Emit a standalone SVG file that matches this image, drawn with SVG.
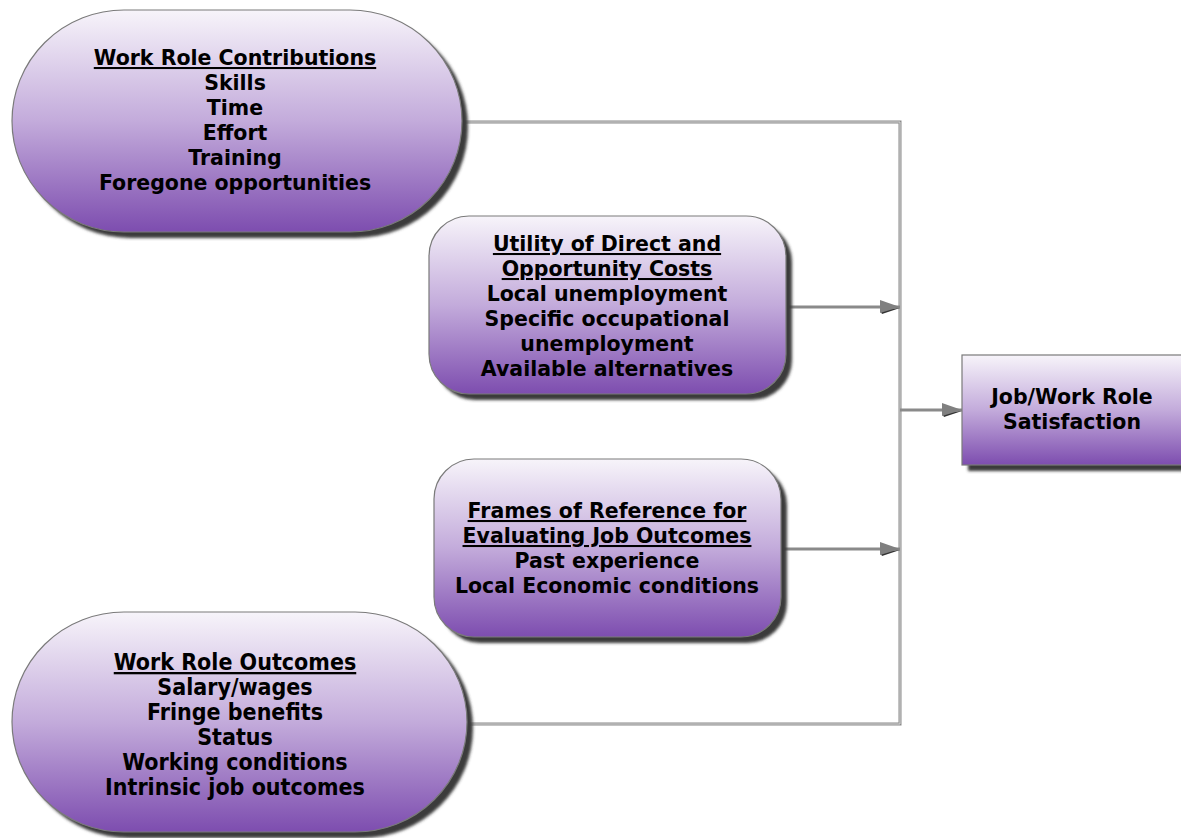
<svg xmlns="http://www.w3.org/2000/svg" width="1181" height="838" viewBox="0 0 1181 838">
<style>
.t{font-family:"DejaVu Sans",Verdana,sans-serif;font-weight:bold;font-size:20.5px;fill:#000;text-anchor:middle}
.c{font-family:"DejaVu Sans Condensed","DejaVu Sans",sans-serif;font-stretch:condensed;font-size:23px}
.u{text-decoration:underline}
.box{fill:url(#g);stroke:#7a7a7a;stroke-width:1.2}
.sh{fill:#3a3a3a}
.ln{fill:none;stroke:#8a8a8a;stroke-width:3}
.lnh{fill:none;stroke:#d8d8d8;stroke-width:1}
</style>
<defs>
<linearGradient id="g" x1="0" y1="0" x2="0" y2="1">
<stop offset="0" stop-color="#f7f4fa"/>
<stop offset="0.5" stop-color="#c3abdb"/>
<stop offset="1" stop-color="#7d4daf"/>
</linearGradient>
<filter id="b" x="-10%" y="-10%" width="120%" height="120%"><feGaussianBlur stdDeviation="1.5"/></filter>
<marker id="a" viewBox="0 0 22 16" refX="21" refY="8" markerWidth="22" markerHeight="16" markerUnits="userSpaceOnUse" orient="auto">
<path d="M1 11 L21 9 L3 15 Z" fill="#333"/>
<path d="M1 1 L21 8 L1 14 Z" fill="#808080"/>
</marker>
</defs>
<g id="connectors">
<path class="ln" d="M462 122 H900 V724 H467"/>
<path class="lnh" d="M462 122 H900 V724 H467"/>
<path class="ln" d="M786 307 H900" marker-end="url(#a)"/>
<path class="ln" d="M781 549 H900" marker-end="url(#a)"/>
<path class="ln" d="M900 410 H962" marker-end="url(#a)"/>
</g>
<g id="n1">
<rect class="sh" x="18" y="16" width="450" height="222" rx="112" ry="111" filter="url(#b)"/>
<rect class="box" x="12" y="10" width="450" height="222" rx="112" ry="111"/>
<text class="t" x="235" y="65"><tspan class="u">Work Role Contributions</tspan><tspan x="235" dy="25">Skills</tspan><tspan x="235" dy="25">Time</tspan><tspan x="235" dy="25">Effort</tspan><tspan x="235" dy="25">Training</tspan><tspan x="235" dy="25">Foregone opportunities</tspan></text>
</g>
<g id="n2">
<rect class="sh" x="435" y="222" width="357" height="178" rx="40" filter="url(#b)"/>
<rect class="box" x="429" y="216" width="357" height="178" rx="40"/>
<text class="t" x="607" y="251"><tspan class="u">Utility of Direct and</tspan><tspan x="607" dy="25" class="u">Opportunity Costs</tspan><tspan x="607" dy="25">Local unemployment</tspan><tspan x="607" dy="25">Specific occupational</tspan><tspan x="607" dy="25">unemployment</tspan><tspan x="607" dy="25">Available alternatives</tspan></text>
</g>
<g id="n3">
<rect class="sh" x="440" y="465" width="347" height="178" rx="40" filter="url(#b)"/>
<rect class="box" x="434" y="459" width="347" height="178" rx="40"/>
<text class="t" x="607" y="518"><tspan class="u">Frames of Reference for</tspan><tspan x="607" dy="25" class="u">Evaluating Job Outcomes</tspan><tspan x="607" dy="25">Past experience</tspan><tspan x="607" dy="25">Local Economic conditions</tspan></text>
</g>
<g id="n4">
<rect class="sh" x="18" y="618" width="455" height="220" rx="112" ry="110" filter="url(#b)"/>
<rect class="box" x="12" y="612" width="455" height="220" rx="112" ry="110"/>
<text class="t c" x="235" y="670"><tspan class="u">Work Role Outcomes</tspan><tspan x="235" dy="25">Salary/wages</tspan><tspan x="235" dy="25">Fringe benefits</tspan><tspan x="235" dy="25">Status</tspan><tspan x="235" dy="25">Working conditions</tspan><tspan x="235" dy="25">Intrinsic job outcomes</tspan></text>
</g>
<g id="n5">
<rect class="sh" x="968" y="361" width="220" height="110" filter="url(#b)"/>
<rect class="box" x="962" y="355" width="222" height="110"/>
<text class="t" x="1072" y="404"><tspan>Job/Work Role</tspan><tspan x="1072" dy="25">Satisfaction</tspan></text>
</g>
</svg>
